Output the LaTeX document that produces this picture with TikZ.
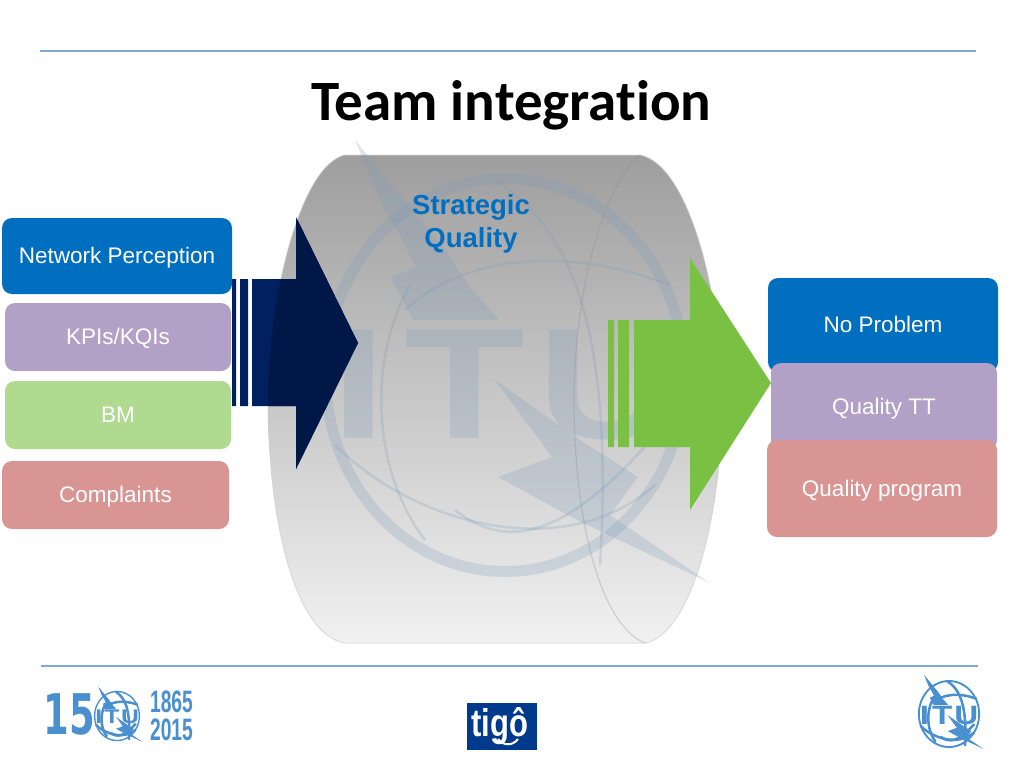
\documentclass[tikz,border=0pt]{standalone}
\usepackage{fontspec}
\setmainfont{Liberation Sans}
\newfontfamily\titlefont[Ligatures=NoCommon]{Carlito}
\newfontfamily\dejavu{DejaVu Sans}
\usetikzlibrary{shapes.geometric}
\definecolor{boxblue}{HTML}{006FBF}
\definecolor{boxpurple}{HTML}{B3A0C6}
\definecolor{boxgreen}{HTML}{AFDA8F}
\definecolor{boxred}{HTML}{D99594}
\definecolor{navyarrow}{HTML}{002060}
\definecolor{navydark}{HTML}{001748}
\definecolor{greenarrow}{HTML}{7AC143}
\definecolor{rulecol}{HTML}{7FAACB}
\definecolor{logoblue}{HTML}{4A8FCF}
\definecolor{markblue}{HTML}{7D9BBB}
\definecolor{barreltop}{HTML}{9E9E9E}
\definecolor{barrelbot}{HTML}{F1F1F1}
\definecolor{tigoblue}{HTML}{003A8C}
\pgfdeclareverticalshading{barrelshade}{100bp}{color(0bp)=(barrelbot); color(25bp)=(barrelbot); color(75bp)=(barreltop); color(100bp)=(barreltop)}
\newcommand{\barrelpath}{(345,155) -- (640,155) .. controls (690,165) and (722,300) .. (722,400) .. controls (722,520) and (690,635) .. (645,643) -- (345,643) .. controls (295,635) and (268,520) .. (268,400) .. controls (268,300) and (300,165) .. (345,155) -- cycle}
\newcommand{\navypath}{(232,279) rectangle (236,406) (240,279) rectangle (248,406) (252,279) -- (296,279) -- (296,217) -- (358,343) -- (296,469) -- (296,406) -- (252,406) -- cycle}
% #1 x, #2 y, #3 scale, #4 colour, #5 opacity, #6 line width, #7 node name
\newcommand{\itumark}[7]{%
 \begin{scope}[shift={(#1,#2)},scale=#3,transform shape]
  \fill[#4,opacity=#5,even odd rule] (0,0) ellipse [x radius=185,y radius=202] (0,0) ellipse [x radius=174,y radius=191];
  \draw[#4,opacity=#5,line width=#6] (-10,-195) .. controls (60,-150) and (110,-60) .. (95,190);
  \draw[#4,opacity=#5,line width=#6] (-100,-65) .. controls (-40,-120) and (60,-130) .. (165,-90);
  \draw[#4,opacity=#5,line width=#6] (-170,70) .. controls (-90,150) and (60,190) .. (150,110);
  \draw[#4,opacity=#5,line width=#6] (-95,-90) .. controls (-140,-10) and (-130,100) .. (-80,165);
  \draw[#4,opacity=#5,line width=#6] (-50,135) .. controls (0,175) and (60,165) .. (150,60);
  \fill[#4,opacity=#5] (-150,-235) -- (-121,-165) -- (-110,-148) -- (-89,-108) -- (-114,-98) -- (-92,-55) -- (-6,-55) -- (-35,-88) -- (-60,-125) -- cycle;
  \fill[#4,opacity=#5] (-10,5) -- (47,82) -- (-7,102) -- (72,145) -- (205,208) -- (105,140) -- (133,102) -- (75,65) -- cycle;
  \node[#4,text opacity=#5,font=\bfseries\fontsize{158}{158}\selectfont,xscale=1.25,inner sep=0] (#7) at (1,10) {I\kern14pt T\kern10pt U};
 \end{scope}}
\tikzset{
 lbox/.style={rounded corners=10pt,inner sep=0,text=white,align=center,font=\fontsize{22.5}{26}\selectfont,text height=19pt,text depth=3.8pt},
 rulestyle/.style={draw=rulecol,line width=1.4pt}
}
\begin{document}
\begin{tikzpicture}[x=1pt,y=-1pt]
\useasboundingbox (0,0) rectangle (1024,768);
\fill[white] (0,0) rectangle (1024,768);
% rules
\coordinate (rt1) at (40,51); \coordinate (rt2) at (976,51);
\coordinate (rb1) at (41,666); \coordinate (rb2) at (978,666);
\draw[rulestyle] (rt1) -- (rt2);
\draw[rulestyle] (rb1) -- (rb2);
% title
\node[font=\titlefont\bfseries\fontsize{57}{60}\selectfont,inner sep=0] (title) at (511.5,105.5) {Team integration};
% barrel
\path[shading=barrelshade] \barrelpath;
\draw[black!20,opacity=.6,line width=1pt] \barrelpath;
\draw[black!45,opacity=.3,line width=1.2pt] (640,155) .. controls (600,190) and (574,300) .. (574,400) .. controls (574,520) and (600,625) .. (645,643);
% watermark
\itumark{505}{375}{1}{markblue}{.25}{2.5pt}{wmark}
% strategic
\node[text=boxblue,font=\bfseries\fontsize{27.5}{33}\selectfont,align=center,inner sep=0] (strat) at (471,224) {Strategic\\Quality};
% navy arrow
\fill[navyarrow] \navypath;
\begin{scope}
 \clip \barrelpath;
 \fill[navydark] \navypath;
\end{scope}
% green arrow
\fill[greenarrow] (608,320) rectangle (614,447) (618,320) rectangle (629,447)
  (634,320) -- (690,320) -- (690,258) -- (771,383) -- (690,510) -- (690,447) -- (634,447) -- cycle;
% left boxes
\node[lbox,fill=boxblue,minimum width=230pt,minimum height=76pt] (n1) at (117,256) {Network Perception};
\node[lbox,fill=boxpurple,minimum width=226pt,minimum height=68pt] (n2) at (118,337) {KPIs/KQIs};
\node[lbox,fill=boxgreen,minimum width=226pt,minimum height=68pt] (n3) at (118,415) {BM};
\node[lbox,fill=boxred,minimum width=227pt,minimum height=68pt] (n4) at (115.5,495) {Complaints};
% right boxes
\node[lbox,fill=boxblue,minimum width=230pt,minimum height=94pt] (m1) at (883,325) {No Problem};
\node[lbox,fill=boxpurple,minimum width=226pt,minimum height=87pt] (m2) at (884,406.5) {Quality TT};
\node[lbox,fill=boxred,minimum width=230pt,minimum height=97pt] (m3) at (882,488.5) {Quality program};
% footer: 150 years logo
\node[logoblue,font=\dejavu\bfseries\fontsize{56}{56}\selectfont,xscale=.66,inner sep=0] (fifteen) at (69,714) {15};
\itumark{117}{716}{.125}{logoblue}{1}{2.5pt}{smallmark}
\node[logoblue,font=\bfseries\fontsize{31}{31}\selectfont,xscale=.62,inner sep=0] (y1) at (171.5,702) {1865};
\node[logoblue,font=\bfseries\fontsize{31}{31}\selectfont,xscale=.62,inner sep=0] (y2) at (171.5,730) {2015};
% tigo
\node[fill=tigoblue,minimum width=70pt,minimum height=47pt,inner sep=0] (tigobox) at (502,726.5) {};
\node[white,font=\bfseries\fontsize{31}{31}\selectfont,inner sep=0,yscale=1.25,anchor=base] (tigo) at (500,736) {tigô};
\coordinate (s1) at (498,739); \coordinate (s2) at (518,739);
\draw[white,line width=2pt] (s1) .. controls (503,746) and (513,746) .. (s2);
% right ITU logo
\itumark{949}{714}{.168}{logoblue}{1}{2.5pt}{rightmark}
\end{tikzpicture}
\end{document}
